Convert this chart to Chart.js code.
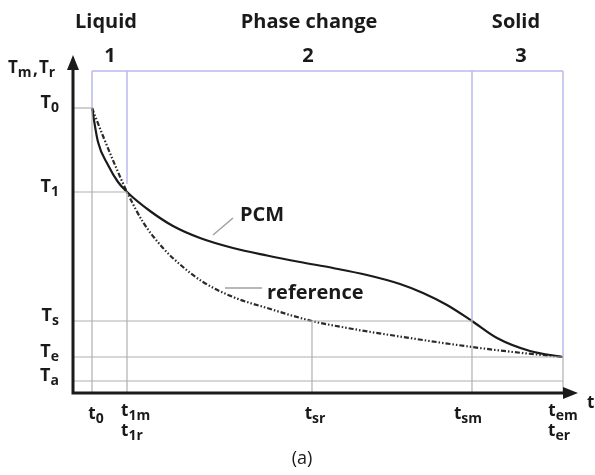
<!DOCTYPE html>
<html>
<head>
<meta charset="utf-8">
<script src="https://cdn.jsdelivr.net/npm/chart.js@4"></script>
<style>
  html, body { margin: 0; padding: 0; background: #fff; }
  #wrap { width: 595px; height: 475px; }
</style>
</head>
<body>
<div id="wrap"><canvas id="chart"></canvas></div>
<script>
// time marks on the t axis
const tNames = ['t0', 't1', 'tsr', 'tsm', 'tem'];
const tValues = [19, 54, 239, 399, 490];
// temperature levels on the vertical axis
const levelNames = ['Ta', 'Te', 'Ts', 'T1', 'T0'];
const levelValues = [12, 36, 72, 201, 285];
const frameTop = 322;

// PCM cooling curve
const pcmX = [19, 25, 35, 45, 54, 77, 100, 127, 160, 194, 227, 260, 294, 327, 350, 374, 399, 424, 457, 490];
const pcmY = [285, 251, 228, 211, 201, 182, 167, 155, 145, 137.5, 131, 125, 118, 109, 100, 88, 72, 55, 42, 36];

// reference cooling curve
const refX = [19, 30, 42, 54, 70, 90, 110, 130, 160, 194, 239, 280, 330, 399, 440, 490];
const refY = [285, 257, 228, 201, 171, 145, 126, 111, 96, 85, 72, 64, 56, 46, 41, 36];

const lvl = n => levelValues[levelNames.indexOf(n)];
const tv = n => tValues[tNames.indexOf(n)];

const grey = '#b0b0b0';
const blue = '#b9b9ee';

function seg(x1, y1, x2, y2, color, w) {
    return {
        data: [{x: x1, y: y1}, {x: x2, y: y2}],
        borderColor: color, borderWidth: w || 1.2, pointRadius: 0, tension: 0
    };
}

const guides = [
    // horizontal helper lines
    seg(0, lvl('T0'), tv('t0'), lvl('T0'), grey),
    seg(0, lvl('T1'), tv('t1'), lvl('T1'), grey),
    seg(0, lvl('Ts'), tv('tsm'), lvl('Ts'), grey),
    seg(0, lvl('Te'), tv('tem'), lvl('Te'), grey),
    seg(0, lvl('Ta'), tv('tem'), lvl('Ta'), grey),
    // vertical helper lines
    seg(tv('t0'), 0, tv('t0'), lvl('T0'), grey),
    seg(tv('t1'), 0, tv('t1'), lvl('T1'), grey),
    seg(tv('tsr'), 0, tv('tsr'), lvl('Ts'), grey),
    seg(tv('tsm'), 0, tv('tsm'), lvl('Ts'), grey),
    seg(tv('tem'), 0, tv('tem'), lvl('Te'), grey),
    // phase frame
    seg(tv('t0'), frameTop, tv('tem'), frameTop, blue, 1.5),
    seg(tv('t0'), frameTop, tv('t0'), lvl('T0'), blue, 1.5),
    seg(tv('t1'), frameTop, tv('t1'), lvl('T1') + 8, blue, 1.5),
    seg(tv('tsm'), frameTop, tv('tsm'), lvl('Ts'), blue, 1.5),
    seg(tv('tem'), frameTop, tv('tem'), lvl('Te'), blue, 1.5),
    // label leaders
    seg(140, 158, 160, 175, '#a0a0a0', 1.5),
    seg(152, 105, 189, 105, '#a0a0a0', 1.5)
];

function drawSub(ctx, main, sub, x, y, size, align) {
    const subSize = Math.round(size * 0.8);
    ctx.font = 'bold ' + size + 'px "Open Sans"';
    const w1 = ctx.measureText(main).width;
    ctx.font = 'bold ' + subSize + 'px "Open Sans"';
    const w2 = ctx.measureText(sub).width;
    let x0 = x;
    if (align === 'right') x0 = x - w1 - w2;
    if (align === 'center') x0 = x - (w1 + w2) / 2;
    ctx.textAlign = 'left';
    ctx.textBaseline = 'middle';
    ctx.font = 'bold ' + size + 'px "Open Sans"';
    ctx.fillText(main, x0, y);
    ctx.font = 'bold ' + subSize + 'px "Open Sans"';
    ctx.fillText(sub, x0 + w1, y + size * 0.3);
}

const decor = {
    id: 'decor',
    afterDraw(chart) {
        const ctx = chart.ctx;
        const a = chart.chartArea;
        const xs = chart.scales.x, ys = chart.scales.y;
        ctx.save();
        ctx.fillStyle = '#1a1a1a';
        ctx.strokeStyle = '#1a1a1a';
        ctx.lineWidth = 3;
        // axes
        ctx.beginPath();
        ctx.moveTo(a.left, a.top + 12);
        ctx.lineTo(a.left, a.bottom);
        ctx.lineTo(a.right - 12, a.bottom);
        ctx.stroke();
        ctx.beginPath();
        ctx.moveTo(a.left, a.top);
        ctx.lineTo(a.left - 6, a.top + 15);
        ctx.lineTo(a.left + 6, a.top + 15);
        ctx.closePath();
        ctx.fill();
        ctx.beginPath();
        ctx.moveTo(a.right, a.bottom);
        ctx.lineTo(a.right - 15, a.bottom - 6);
        ctx.lineTo(a.right - 15, a.bottom + 6);
        ctx.closePath();
        ctx.fill();

        // level labels
        levelNames.forEach((n, i) => {
            drawSub(ctx, 'T', n.slice(1), a.left - 14, ys.getPixelForValue(levelValues[i]) - 5, 18, 'right');
        });
        drawSub(ctx, 'T', 'm', 8, 68, 17, 'left');
        ctx.font = 'bold 17px "Open Sans"';
        ctx.textBaseline = 'middle';
        ctx.fillText(',', 33, 70);
        drawSub(ctx, 'T', 'r', 39, 68, 17, 'left');

        // time labels
        const ty = a.bottom + 19;
        drawSub(ctx, 't', '0', xs.getPixelForValue(tv('t0')) + 4, ty + 2, 17, 'center');
        drawSub(ctx, 't', '1m', xs.getPixelForValue(tv('t1')) - 6, ty - 1, 17, 'left');
        drawSub(ctx, 't', '1r', xs.getPixelForValue(tv('t1')) - 6, ty + 19, 17, 'left');
        drawSub(ctx, 't', 'sr', xs.getPixelForValue(tv('tsr')) + 3, ty + 2, 17, 'center');
        drawSub(ctx, 't', 'sm', xs.getPixelForValue(tv('tsm')) - 4, ty + 2, 17, 'center');
        drawSub(ctx, 't', 'em', xs.getPixelForValue(tv('tem')), ty - 1, 17, 'center');
        drawSub(ctx, 't', 'er', xs.getPixelForValue(tv('tem')) - 4, ty + 19, 17, 'center');
        ctx.font = 'bold 17px "Open Sans"';
        ctx.textAlign = 'left';
        ctx.fillText('t', a.right + 9, a.bottom + 10);

        // phase labels
        ctx.textAlign = 'center';
        ctx.textBaseline = 'middle';
        ctx.font = 'bold 20px "Open Sans"';
        ctx.fillText('Liquid', 106, 22);
        ctx.fillText('Phase change', 309, 22);
        ctx.fillText('Solid', 516, 22);
        ctx.fillText('1', 110, 56);
        ctx.fillText('2', 308, 56);
        ctx.fillText('3', 521, 56);

        // curve labels
        ctx.textAlign = 'left';
        ctx.font = 'bold 20px "Open Sans"';
        ctx.fillText('PCM', 240, 215);
        ctx.fillText('reference', 267, 293);

        ctx.font = '18px "Open Sans"';
        ctx.textAlign = 'center';
        ctx.fillText('(a)', 302, 459);
        ctx.restore();
    }
};

new Chart(document.getElementById('chart'), {
    type: 'line',
    data: {
        datasets: guides.concat([
            {
                label: 'PCM',
                data: pcmX.map((x, i) => ({x: x, y: pcmY[i]})),
                borderColor: '#1a1a1a', borderWidth: 2.2, pointRadius: 0,
                cubicInterpolationMode: 'monotone'
            },
            {
                label: 'reference',
                data: refX.map((x, i) => ({x: x, y: refY[i]})),
                borderColor: '#2a2a2a', borderWidth: 2.2, pointRadius: 0,
                borderDash: [5, 2, 1.5, 2, 1.5, 2],
                cubicInterpolationMode: 'monotone'
            }
        ])
    },
    options: {
        responsive: true,
        maintainAspectRatio: false,
        animation: false,
        layout: { padding: { left: 73, right: 17, top: 55, bottom: 82 } },
        plugins: { legend: { display: false }, tooltip: { enabled: false } },
        scales: {
            x: { type: 'linear', min: 0, max: 505, display: false },
            y: { type: 'linear', min: 0, max: 338, display: false }
        }
    },
    plugins: [decor]
});
</script>
</body>
</html>
